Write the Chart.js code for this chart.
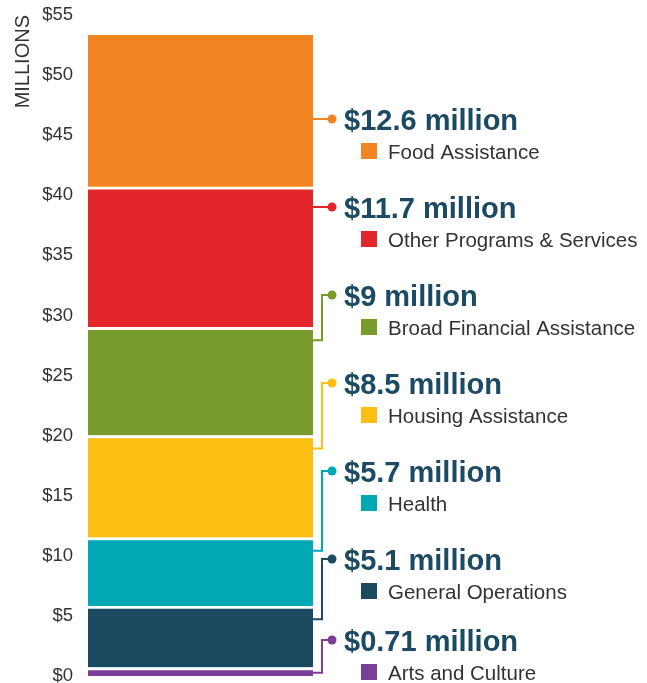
<!DOCTYPE html>
<html>
<head>
<meta charset="utf-8">
<script src="https://cdn.jsdelivr.net/npm/chart.js@4.4.1/dist/chart.umd.min.js"></script>
<style>
  html, body { margin: 0; padding: 0; background: #ffffff; }
  #wrap { width: 647px; height: 683px; position: relative; }
</style>
</head>
<body>
<div id="wrap"><canvas id="chart" width="647" height="683"></canvas></div>
<script>
// Funding by program area, in millions of dollars (stacked bottom to top)
const categories = [
  'Arts and Culture',
  'General Operations',
  'Health',
  'Housing Assistance',
  'Broad Financial Assistance',
  'Other Programs & Services',
  'Food Assistance'
];
const amounts = [0.71, 5.1, 5.7, 8.5, 9, 11.7, 12.6];
const valueLabels = ['$0.71 million', '$5.1 million', '$5.7 million', '$8.5 million',
                     '$9 million', '$11.7 million', '$12.6 million'];
const colors = ['#7B3F98', '#1C4A61', '#00A8B4', '#FDBE13', '#789B2B', '#E3262B', '#F38424'];
const axisTitle = 'MILLIONS';

const valueColor = '#1B4A62';
const textColor = '#333333';
const fontFamily = '"Liberation Sans", Arial, sans-serif';

// Callout labels on the right with elbow connectors back to each segment
const calloutPlugin = {
  id: 'callouts',
  afterDatasetsDraw(chart) {
    const ctx = chart.ctx;
    const n = categories.length;
    const firstY = 119, step = 88;
    const ref = chart.getDatasetMeta(0).data[0];
    const barRight = ref.x + ref.width / 2;
    const elbowX = barRight + 9;
    const dotX = barRight + 19;
    const textX = dotX + 12;
    const lastY = chart.chartArea.bottom - 36;
    ctx.save();
    for (let k = 0; k < n; k++) {
      const i = n - 1 - k;               // top label belongs to the top segment
      const labelY = Math.min(firstY + step * k, lastY);
      const bar = chart.getDatasetMeta(i).data[0];
      const segTop = Math.min(bar.y, bar.base);
      const segBot = Math.max(bar.y, bar.base);
      let anchorY;
      if (labelY > segTop + 4 && labelY < segBot - 4) {
        anchorY = labelY;
      } else {
        anchorY = segTop + Math.min(13, (segBot - segTop) / 2 + 1);
      }
      ctx.strokeStyle = colors[i];
      ctx.fillStyle = colors[i];
      ctx.lineWidth = 2;
      ctx.beginPath();
      if (Math.abs(anchorY - labelY) < 0.5) {
        ctx.moveTo(barRight, labelY);
        ctx.lineTo(dotX, labelY);
      } else {
        ctx.moveTo(barRight, anchorY);
        ctx.lineTo(elbowX, anchorY);
        ctx.lineTo(elbowX, labelY);
        ctx.lineTo(dotX, labelY);
      }
      ctx.stroke();
      ctx.beginPath();
      ctx.arc(dotX, labelY, 4.5, 0, Math.PI * 2);
      ctx.fill();

      // value
      ctx.fillStyle = valueColor;
      ctx.font = 'bold 29px ' + fontFamily;
      ctx.textAlign = 'left';
      ctx.textBaseline = 'alphabetic';
      ctx.fillText(valueLabels[i], textX, labelY + 11);

      // legend swatch + category name
      ctx.fillStyle = colors[i];
      ctx.fillRect(361, labelY + 24, 16, 16);
      ctx.fillStyle = textColor;
      ctx.font = '20.5px ' + fontFamily;
      ctx.fillText(categories[i], 388, labelY + 40);
    }
    ctx.restore();
  }
};

new Chart(document.getElementById('chart'), {
  type: 'bar',
  data: {
    labels: ['Total'],
    datasets: categories.map((c, i) => ({
      label: c,
      data: [amounts[i]],
      backgroundColor: colors[i],
      borderColor: '#ffffff',
      borderWidth: i === categories.length - 1 ? 0 : { top: 3, left: 0, right: 0, bottom: 0 },
      borderSkipped: 'start',
      barPercentage: 1,
      categoryPercentage: 1
    }))
  },
  options: {
    responsive: false,
    animation: false,
    layout: { padding: { left: 0, right: 334, top: 15, bottom: 7 } },
    plugins: { legend: { display: false }, tooltip: { enabled: false } },
    scales: {
      x: { display: false, stacked: true },
      y: {
        stacked: true,
        min: 0,
        max: 55,
        afterFit(scale) {
          scale.width = 88;
          scale.paddingTop = 0;
          scale.paddingBottom = 0;
        },
        grid: { display: false, drawTicks: false },
        border: { display: false },
        ticks: {
          stepSize: 5,
          padding: 15,
          color: textColor,
          font: { family: fontFamily, size: 18.5 },
          callback: v => '$' + v
        },
        title: {
          display: true,
          text: axisTitle,
          align: 'end',
          color: textColor,
          font: { family: fontFamily, size: 20 },
          padding: { top: 11, bottom: 0 }
        }
      }
    }
  },
  plugins: [calloutPlugin]
});
</script>
</body>
</html>
